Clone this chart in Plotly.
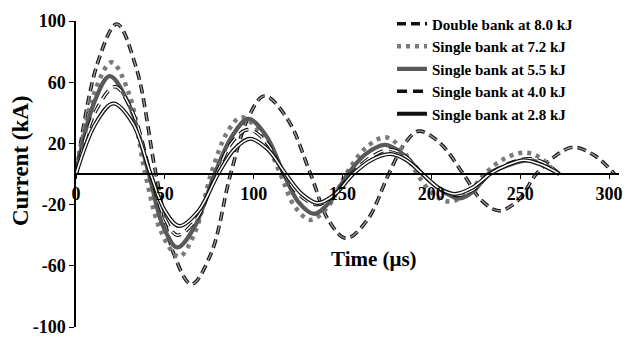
import plotly.graph_objects as go

# ---- data ----
series_names = ["Double bank at 8.0 kJ", "Single bank at 7.2 kJ", "Single bank at 5.5 kJ",
                "Single bank at 4.0 kJ", "Single bank at 2.8 kJ"]

double_t = [0, 12, 23, 34, 45, 55, 65, 76, 87, 97, 106, 119, 132, 142, 152, 164, 176, 185, 193, 205, 218, 228, 238, 249, 259, 270, 280, 292, 303]
double_i = [0, 72, 98, 69, 0, -52, -72, -52, 0, 37, 51, 36, 0, -30, -42, -30, 0, 20, 28, 20, 0, -17, -24, -17, 0, 12, 17.5, 12, 0]

s72_t = [0, 10, 20, 30, 39, 48, 58, 67, 76, 85, 93, 104, 115, 123, 132, 142, 152, 163, 174, 183, 192, 201, 210, 220, 230, 241, 253, 262, 270]
s72_i = [0, 52, 73, 52, 0, -38, -54, -38, 0, 27, 37, 27, 0, -21, -30, -21, 0, 17, 24, 17, 0, -13, -18, -13, 0, 10, 14, 10, 0]

s55_t = [0, 10, 19, 30, 41, 49, 57, 67, 78, 88, 97, 107, 117, 125, 134, 143, 153, 163, 174, 184, 195, 206, 216, 224, 232, 244, 255, 264, 272]
s55_i = [0, 46, 64, 45, 0, -34, -48, -34, 0, 25, 36, 25, 0, -18, -26, -18, 0, 13, 19, 13, 0, -11, -16, -11, 0, 6, 9, 6, 0]

s40_t = [0, 11, 22, 32, 42, 50, 57, 68, 79, 88, 97, 107, 117, 126, 136, 145, 155, 166, 177, 186, 195, 205, 214, 224, 233, 244, 255, 264, 272]
s40_i = [0, 41, 57, 40, 0, -29, -40, -29, 0, 21, 29, 21, 0, -14, -20, -14, 0, 11, 16, 11, 0, -10, -14, -10, 0, 7, 10, 7, 0]

s28_t = [0, 11, 21, 32, 42, 50, 58, 69, 80, 89, 98, 108, 118, 127, 136, 146, 156, 166, 177, 186, 195, 204, 213, 223, 233, 243, 252, 262, 272]
s28_i = [0, 33, 46, 33, 0, -24, -34, -24, 0, 16, 23, 16, 0, -13, -19, -13, 0, 9, 13, 9, 0, -9, -13, -9, 0, 6, 9, 6, 0]

x_ticks = [0, 50, 100, 150, 200, 250, 300]
y_ticks = [-100, -60, -20, 20, 60, 100]

FONT = "Liberation Serif, Times New Roman, serif"

fig = go.Figure()

def add(t, i, name, color, width, dash="solid", legend=True, overlay=None):
    fig.add_trace(go.Scatter(x=t, y=i, name=name, mode="lines", showlegend=legend,
                             line=dict(color=color, width=width, dash=dash, shape="spline", smoothing=1)))
    if overlay:
        c2, w2 = overlay
        fig.add_trace(go.Scatter(x=t, y=i, name=name, mode="lines", showlegend=False, hoverinfo="skip",
                                 line=dict(color=c2, width=w2, dash=dash, shape="spline", smoothing=1)))

add(double_t, double_i, series_names[0], "#111111", 3.6, "9px,5px", overlay=("#9a9a9a", 1.4))
add(s72_t, s72_i, series_names[1], "#7a7a7a", 4.5, "4px,5px")
add(s55_t, s55_i, series_names[2], "#595959", 4.2)
add(s40_t, s40_i, series_names[3], "#111111", 3.6, "10px,6px", overlay=("#ffffff", 1.4))
add(s28_t, s28_i, series_names[4], "#111111", 4.0, overlay=("#ffffff", 1.5))

fig.update_layout(
    width=627, height=342, autosize=False,
    margin=dict(l=76, r=5, t=20.5, b=12.5),
    paper_bgcolor="white", plot_bgcolor="white",
    font=dict(family=FONT, color="black"),
    showlegend=True,
    legend=dict(x=0.582, y=1.044, xanchor="left", yanchor="top",
                bgcolor="rgba(0,0,0,0)", font=dict(family=FONT, size=15, weight="bold"),
                itemwidth=30, tracegroupgap=0),
    xaxis=dict(range=[0, 305.6], anchor="free", position=0.5,
               showline=True, linecolor="black", linewidth=1.5,
               ticks="outside", ticklen=4, tickwidth=1.2, tickcolor="black",
               tickvals=x_ticks, ticktext=[str(v) for v in x_ticks],
               tickfont=dict(family=FONT, size=18, weight="bold"),
               showgrid=False, zeroline=False),
    yaxis=dict(range=[-100, 100], showline=True, linecolor="black", linewidth=1.5,
               ticks="outside", ticklen=5, tickwidth=1.2, tickcolor="black",
               tickvals=y_ticks, ticktext=[str(v) for v in y_ticks],
               tickfont=dict(family=FONT, size=18, weight="bold"),
               showgrid=False, zeroline=False),
    annotations=[
        dict(text="<b>Current (kA)</b>", textangle=-90, xref="paper", yref="paper",
             x=-0.101, y=0.543, xanchor="center", yanchor="middle",
             showarrow=False, font=dict(family=FONT, size=23)),
        dict(text="<b>Time (μs)</b>", xref="paper", yref="paper",
             x=0.548, y=0.222, xanchor="center", yanchor="middle",
             showarrow=False, font=dict(family=FONT, size=21)),
    ],
)

fig.write_html("out.html")
